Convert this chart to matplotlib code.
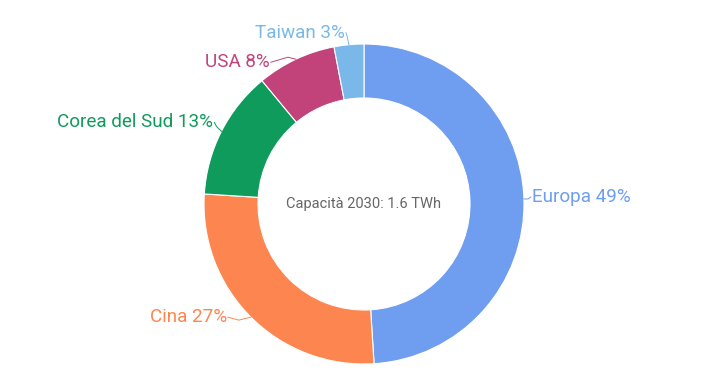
import matplotlib.pyplot as plt
import numpy as np

plt.rcParams['font.family'] = ['Roboto', 'DejaVu Sans']

regions = ["Europa", "Cina", "Corea del Sud", "USA", "Taiwan"]
shares = [49, 27, 13, 8, 3]
colors = ["#6f9ef0", "#fd8650", "#0f9b5c", "#c1437a", "#7bb8ea"]
center_label = "Capacità 2030: 1.6 TWh"

# label offsets (px) from the wedge's outer edge, kink point, and alignment
offsets = [(7, 2), (-23, 0), (-7, 9), (-25, -3), (-3, 12)]
kinks = [(4, 0), (-12, -3), (-5, 5), (-8, 2), (-2, 9)]
aligns = ["left", "right", "right", "right", "right"]

W, H = 720, 374
cx, cy = 364, H - 204
R = 160

fig = plt.figure(figsize=(7.2, 3.74), dpi=100)
ax = fig.add_axes([0, 0, 1, 1])

wedges, _ = ax.pie(shares, colors=colors, startangle=90, counterclock=False,
                   radius=R, center=(cx, cy),
                   wedgeprops=dict(width=54, edgecolor="white", linewidth=0.8))

total = sum(shares)
cum = 0
for i, (name, val) in enumerate(zip(regions, shares)):
    mid = (cum + val / 2) / total * 2 * np.pi
    cum += val
    ex = cx + R * np.sin(mid)
    ey = cy + R * np.cos(mid)
    dx, dy = offsets[i]
    kx, ky = kinks[i]
    tx, ty = ex + dx, ey + dy
    ax.plot([ex, ex + kx, tx], [ey, ey + ky, ty], color=colors[i], lw=0.7)
    ax.text(tx + (1 if aligns[i] == "left" else -1), ty, f"{name} {val}%",
            color=colors[i], fontsize=13.6, ha=aligns[i], va="center")

ax.text(cx, cy, center_label, color="#666666", fontsize=10.5,
        ha="center", va="center")

ax.set_xlim(0, W)
ax.set_ylim(0, H)
ax.set_aspect("equal")
ax.axis("off")

fig.savefig("out.png", dpi=100)
